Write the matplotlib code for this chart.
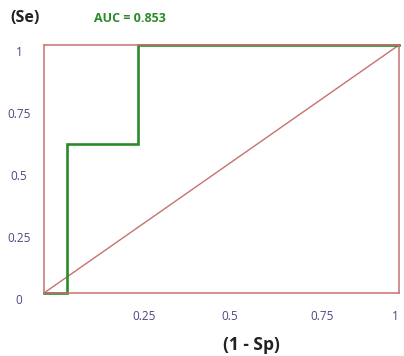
import matplotlib
matplotlib.use("Agg")
import matplotlib.pyplot as plt
import matplotlib.transforms as mtransforms

# ROC curve points
fpr = [0, 0.065, 0.065, 0.265, 0.265, 1]
tpr = [0, 0, 0.60, 0.60, 1, 1]
ticks = [0.25, 0.5, 0.75, 1]
tick_labels = ["0.25", "0.5", "0.75", "1"]
y_ticks = [0, 0.25, 0.5, 0.75, 1]
y_tick_labels = ["0", "0.25", "0.5", "0.75", "1"]
auc_text = "AUC = 0.853"

plt.rcParams['font.family'] = ['Open Sans', 'DejaVu Sans']

fig = plt.figure(figsize=(4.04, 3.56), dpi=100)
ax = fig.add_axes([44 / 404, 63 / 356, 355 / 404, 248 / 356])
ax.set_xlim(0, 1)
ax.set_ylim(0, 1)

box_col = "#c87070"
green = "#2a8a2a"
lab_col = "#4a4a80"

for s in ax.spines.values():
    s.set_color(box_col)
    s.set_linewidth(1.1)

ax.plot([0, 1], [0, 1], color=box_col, lw=1.0)
ax.plot(fpr, tpr, color=green, lw=1.9, clip_on=False, solid_joinstyle='miter')

ax.set_xticks([])
ax.set_yticks([])

# tick labels placed left aligned at the tick, like the original
off_x = mtransforms.offset_copy(ax.transData, fig=fig, x=0, y=-23, units='dots')
for t, lab in zip(ticks, tick_labels):
    # last label sits at the right edge, keep it inside the picture
    ha = 'right' if t == 1 else 'left'
    ax.text(t, 0, lab, transform=off_x, ha=ha, va='center',
            fontsize=8.5, color=lab_col, clip_on=False)

yoff = mtransforms.blended_transform_factory(fig.transFigure, ax.transData)
yoff = mtransforms.offset_copy(yoff, fig=fig, x=0, y=-7, units='dots')
for t, lab in zip(y_ticks, y_tick_labels):
    ax.text(19 / 404, t, lab, transform=yoff, ha='center', va='center',
            fontsize=8.5, color=lab_col, clip_on=False)

fig.text(25 / 404, 1 - 18 / 356, "(Se)", ha='center', va='center',
         fontsize=11.5, fontweight='bold', color='#222222')
fig.text(130 / 404, 1 - 18 / 356, auc_text, ha='center', va='center',
         fontsize=9, fontweight='bold', color=green)
fig.text(251 / 404, 1 - 345 / 356, "(1 - Sp)", ha='center', va='center',
         fontsize=12.5, fontweight='bold', color='#222222')

fig.savefig("out.png", dpi=100)
